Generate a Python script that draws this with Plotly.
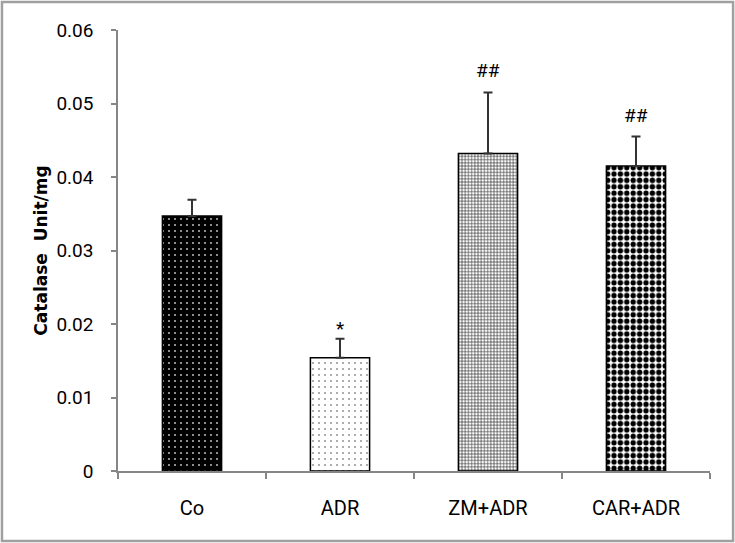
import plotly.graph_objects as go

categories = ["Co", "ADR", "ZM+ADR", "CAR+ADR"]
values = [0.0347, 0.0154, 0.0432, 0.0415]
errors = [0.0022, 0.0026, 0.0083, 0.0040]
marks = ["", "*", "##", "##"]
ytick_vals = [0, 0.01, 0.02, 0.03, 0.04, 0.05, 0.06]
ytick_text = ["0", "0.01", "0.02", "0.03", "0.04", "0.05", "0.06"]

FONT = "Roboto, sans-serif"
MARK_SHIFT = {"*": -3, "##": 8}

patterns = [
    dict(shape=".", bgcolor="#000000", fgcolor="#b0b0b0", size=6, solidity=0.1, fillmode="replace"),
    dict(shape=".", bgcolor="#ffffff", fgcolor="#9a9a9a", size=6, solidity=0.1, fillmode="replace"),
    dict(shape="+", bgcolor="#ffffff", fgcolor="#2a2a2a", size=3.2, solidity=0.35, fillmode="replace"),
    dict(shape=".", bgcolor="#ffffff", fgcolor="#000000", size=6.4, solidity=0.55, fillmode="replace"),
]

fig = go.Figure()
for i, cat in enumerate(categories):
    fig.add_trace(go.Bar(
        x=[cat], y=[values[i]],
        width=0.4,
        marker=dict(color="white", pattern=patterns[i],
                    line=dict(color="#000000", width=1.5)),
        error_y=dict(type="data", symmetric=False, array=[errors[i]], arrayminus=[0],
                     color="#333333", thickness=2, width=4.5),
        showlegend=False,
    ))

for i, cat in enumerate(categories):
    if marks[i]:
        fig.add_annotation(x=cat, y=values[i] + errors[i], text=marks[i],
                           showarrow=False, yanchor="bottom", yshift=MARK_SHIFT[marks[i]],
                           font=dict(family=FONT, size=19, color="#000000"))

fig.update_layout(
    width=735, height=543,
    margin=dict(l=118, r=25, t=30, b=72),
    plot_bgcolor="white", paper_bgcolor="white",
    barmode="overlay",
    font=dict(family=FONT, color="#000000"),
    xaxis=dict(
        type="category", categoryorder="array", categoryarray=categories,
        range=[-0.5, 3.5],
        showline=True, linecolor="#868686", linewidth=1.5,
        ticks="outside", tickson="boundaries", ticklen=6, tickcolor="#868686", tickwidth=1.5,
        tickfont=dict(family=FONT, size=20, color="#000000"),
        ticklabelstandoff=18,
        showgrid=False, zeroline=False,
    ),
    yaxis=dict(
        range=[0, 0.06],
        tickvals=ytick_vals, ticktext=ytick_text,
        showline=True, linecolor="#868686", linewidth=1.5,
        ticks="outside", ticklen=5, tickcolor="#868686", tickwidth=1.5,
        tickfont=dict(family=FONT, size=19, color="#000000"),
        ticklabelstandoff=14,
        showgrid=False, zeroline=False,
        title=dict(text="<b>Catalase  Unit/mg</b>", standoff=4,
                   font=dict(family="DejaVu Sans, Verdana, sans-serif", size=17, color="#000000")),
    ),
    shapes=[dict(type="rect", xref="paper", yref="paper",
                 x0=-0.196, x1=1.039, y0=-0.1587, y1=1.0635,
                 line=dict(color="#a0a0a0", width=2.5), fillcolor="rgba(0,0,0,0)", layer="below")],
)

fig.write_html("out.html", config={"displayModeBar": False},
               post_script="document.body.style.margin='0px';")
